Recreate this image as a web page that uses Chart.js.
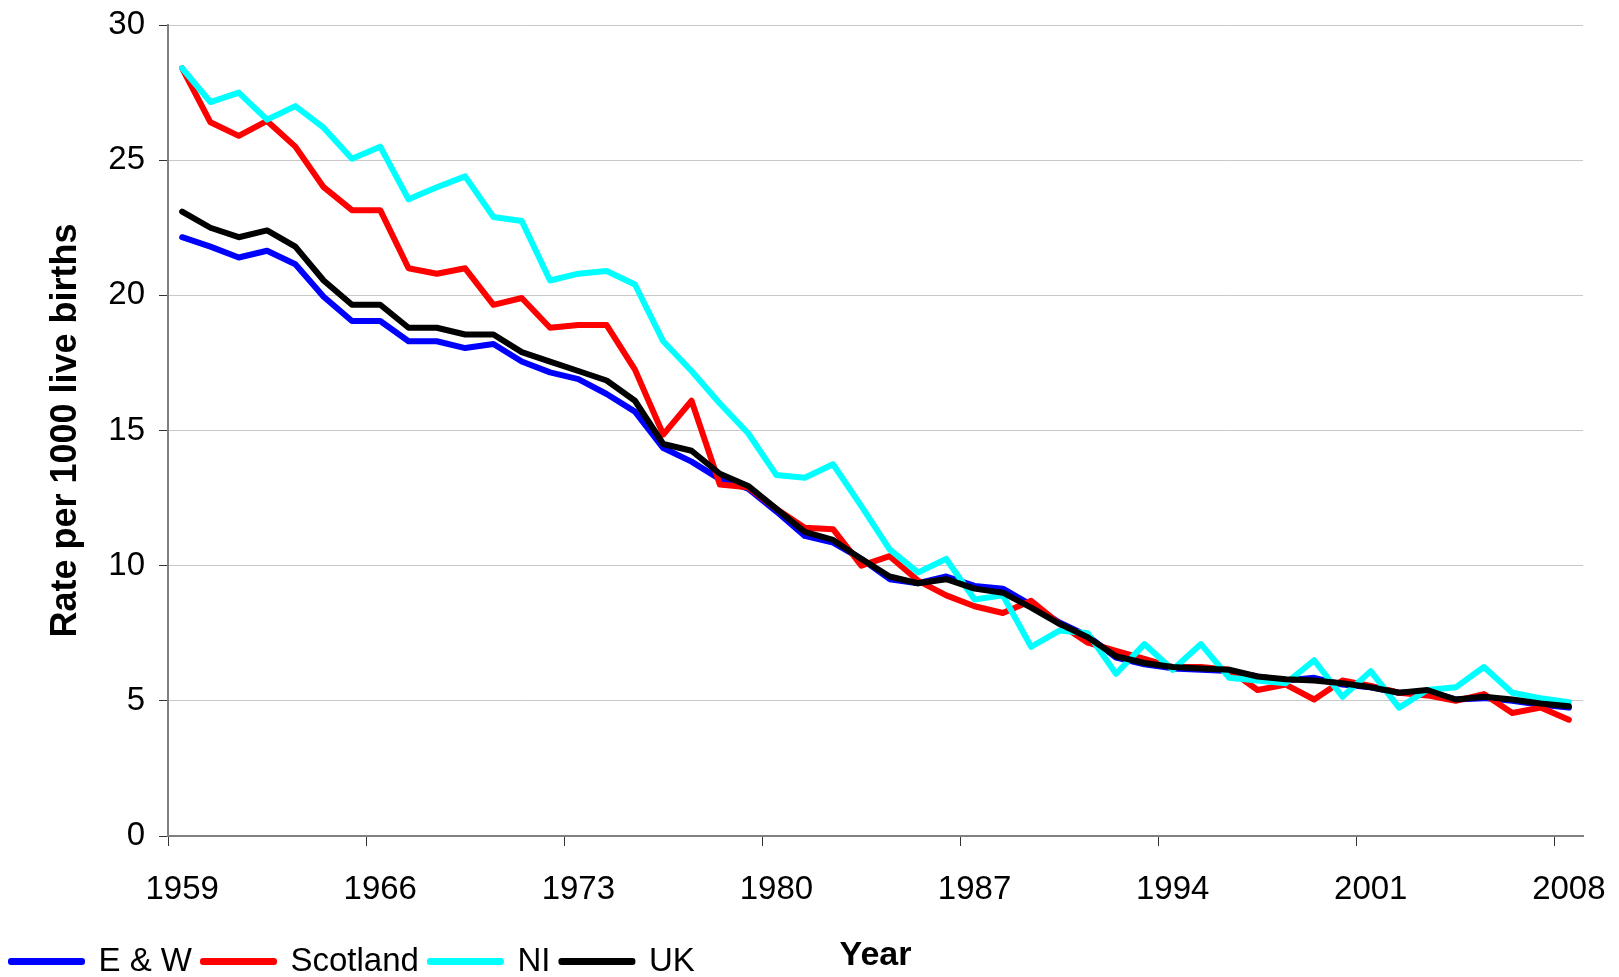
<!DOCTYPE html>
<html>
<head>
<meta charset="utf-8">
<script src="https://cdn.jsdelivr.net/npm/chart.js@4/dist/chart.umd.min.js"></script>
<style>
  html, body { margin: 0; padding: 0; background: #fff; }
  canvas { display: block; }
</style>
</head>
<body>
<canvas id="rate-chart" width="1619" height="977"></canvas>
<script>
var years = [];
for (var y = 1959; y <= 2008; y++) years.push(String(y));

var ewRates = [
	22.15, 21.8, 21.4, 21.65, 21.15, 19.95, 19.05, 19.05, 18.3, 18.3,
	18.05, 18.2, 17.55, 17.15, 16.9, 16.35, 15.7, 14.35, 13.85, 13.2,
	12.85, 12.0, 11.1, 10.85, 10.25, 9.5, 9.35, 9.6, 9.25, 9.15,
	8.55, 7.9, 7.4, 6.6, 6.35, 6.2, 6.15, 6.1, 5.9, 5.75,
	5.85, 5.6, 5.5, 5.3, 5.35, 5.05, 5.1, 5.0, 4.85, 4.75
];
var scotlandRates = [
	28.4, 26.4, 25.9, 26.45, 25.5, 24.0, 23.15, 23.15, 21.0, 20.8,
	21.0, 19.65, 19.9, 18.8, 18.9, 18.9, 17.25, 14.85, 16.1, 13.0,
	12.9, 12.1, 11.4, 11.35, 10.0, 10.35, 9.45, 8.9, 8.5, 8.25,
	8.7, 7.85, 7.15, 6.85, 6.55, 6.25, 6.25, 6.15, 5.4, 5.6,
	5.05, 5.75, 5.55, 5.3, 5.2, 5.0, 5.25, 4.55, 4.75, 4.3
];
var niRates = [
	28.4, 27.15, 27.5, 26.5, 27.0, 26.2, 25.05, 25.5, 23.55, 24.0,
	24.4, 22.9, 22.75, 20.55, 20.8, 20.9, 20.4, 18.3, 17.2, 16.0,
	14.9, 13.35, 13.25, 13.75, 12.2, 10.6, 9.75, 10.25, 8.75, 8.9,
	7.0, 7.6, 7.5, 6.0, 7.1, 6.15, 7.1, 5.85, 5.75, 5.65,
	6.5, 5.15, 6.1, 4.75, 5.4, 5.5, 6.25, 5.3, 5.1, 4.95
];
var ukRates = [
	23.1, 22.5, 22.15, 22.4, 21.8, 20.55, 19.65, 19.65, 18.8, 18.8,
	18.55, 18.55, 17.9, 17.55, 17.2, 16.85, 16.1, 14.5, 14.25, 13.4,
	12.95, 12.1, 11.25, 10.95, 10.25, 9.6, 9.35, 9.5, 9.15, 9.0,
	8.45, 7.85, 7.35, 6.65, 6.4, 6.25, 6.2, 6.15, 5.9, 5.8,
	5.75, 5.65, 5.5, 5.3, 5.4, 5.05, 5.15, 5.05, 4.9, 4.8
];
var yTicks = [0, 5, 10, 15, 20, 25, 30];

var fontFamily = "'Liberation Sans', Arial, sans-serif";
var axisGrey = "#808080";

function series(label, data, colour, order) {
	return {
		label: label,
		data: data,
		borderColor: colour,
		backgroundColor: colour,
		borderWidth: 6,
		borderJoinStyle: 'round',
		borderCapStyle: 'round',
		pointRadius: 0,
		tension: 0,
		order: order
	};
}

var ctx = document.getElementById("rate-chart").getContext('2d');

new Chart(ctx, {
	type: 'line',
	data: {
		labels: years,
		datasets: [
			series('E & W', ewRates, '#0000ff', 3),
			series('Scotland', scotlandRates, '#ff0000', 2),
			series('NI', niRates, '#00ffff', 1),
			series('UK', ukRates, '#000000', 0)
		]
	},
	options: {
		responsive: false,
		animation: false,
		devicePixelRatio: 1,
		layout: {
			// negative bottom pushes the legend row down beside "Year"
			padding: { left: 0, right: 36, top: 25, bottom: -11 }
		},
		plugins: {
			tooltip: { enabled: false },
			legend: {
				position: 'bottom',
				align: 'start',
				labels: {
					boxWidth: 71,
					boxHeight: 1,
					padding: 11,
					color: '#000',
					font: { family: fontFamily, size: 33 },
					sort: function (a, b) { return a.datasetIndex - b.datasetIndex; }
				}
			}
		},
		scales: {
			x: {
				offset: true,
				afterFit: function (scale) {
					scale.height = 98;
					scale.paddingLeft = 0;
					scale.paddingRight = 0;
				},
				grid: {
					offset: true,
					drawOnChartArea: false,
					drawTicks: true,
					tickLength: 10,
					color: function (c) { return c.index % 7 === 0 ? '#333' : 'rgba(0,0,0,0)'; }
				},
				border: { color: axisGrey, width: 2 },
				ticks: {
					autoSkip: false,
					maxRotation: 0,
					padding: 24,
					color: '#000',
					font: { family: fontFamily, size: 33 },
					callback: function (val, i) { return i % 7 === 0 ? years[i] : ''; }
				},
				title: {
					display: true,
					text: 'Year',
					color: '#000',
					font: { family: fontFamily, size: 34, weight: 'bold' },
					padding: { top: 0, bottom: -42 }
				}
			},
			y: {
				min: yTicks[0],
				max: yTicks[yTicks.length - 1],
				afterFit: function (scale) {
					scale.width = 168;
					scale.paddingTop = 0;
					scale.paddingBottom = 0;
				},
				afterBuildTicks: function (scale) {
					scale.ticks = yTicks.map(function (v) { return { value: v }; });
				},
				grid: {
					color: '#c8c8c8',
					lineWidth: 1,
					tickLength: 9,
					tickColor: '#333'
				},
				border: { color: axisGrey, width: 2 },
				ticks: {
					padding: 14,
					color: '#000',
					font: { family: fontFamily, size: 33 }
				},
				title: {
					display: true,
					text: 'Rate per 1000 live births',
					color: '#000',
					font: { family: fontFamily, size: 36, weight: 'bold' },
					padding: { top: 44, bottom: 0 }
				}
			}
		}
	}
});
</script>
</body>
</html>
